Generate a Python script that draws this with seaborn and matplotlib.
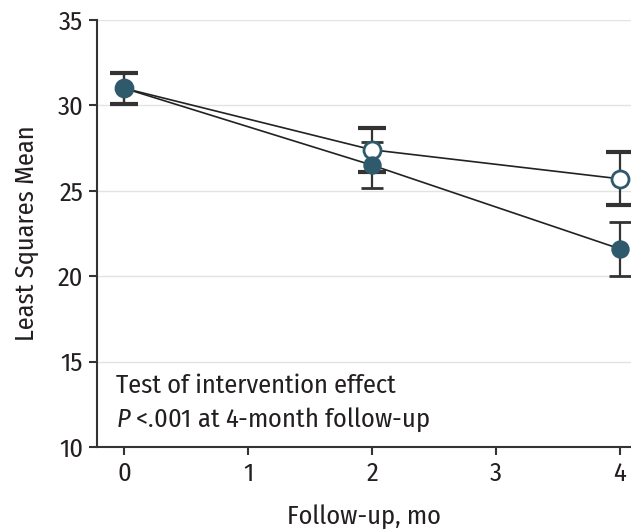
import matplotlib
matplotlib.use('Agg')
from matplotlib import pyplot as plt
import pandas as pd
import seaborn as sns

### DATA ###
months = [0, 2, 4]
open_mean = [31.0, 27.4, 25.7]
open_err = [0.9, 1.3, 1.55]
filled_mean = [31.0, 26.5, 21.6]
filled_err = [0.9, 1.35, 1.6]
y_ticks = [10, 15, 20, 25, 30, 35]
x_ticks = [0, 1, 2, 3, 4]

teal = '#2f5a6b'
dark = '#333333'
txt = '#231f20'
fam = 'Fira Sans Condensed'
fs = 19

sns.set_style('white')
plt.rcParams['font.family'] = [fam, 'DejaVu Sans']
plt.rcParams['mathtext.fontset'] = 'custom'
plt.rcParams['mathtext.it'] = fam + ':italic'
plt.rcParams['mathtext.rm'] = fam

df = pd.DataFrame({
    'month': months * 2,
    'mean': open_mean + filled_mean,
    'group': ['open'] * 3 + ['filled'] * 3,
})

fig = plt.figure(figsize=(6.31, 5.30), dpi=100)
ax = fig.add_axes([0.1537, 0.1566, 0.8463, 0.8057])

for yy in y_ticks[1:]:
    ax.axhline(yy, color='#e3e3e3', lw=1, zorder=0)

# lines
sns.lineplot(data=df, x='month', y='mean', units='group', estimator=None,
             color='#222222', lw=1.2, ax=ax, zorder=2)

# error bars: open group (teal caps)
eb = ax.errorbar(months, open_mean, yerr=open_err, fmt='none', ecolor=dark,
                 elinewidth=1.6, capsize=10, capthick=3, zorder=3)
for c in eb[1]:
    c.set_color(teal)
# error bars: filled group (dark caps)
ax.errorbar(months, filled_mean, yerr=filled_err, fmt='none', ecolor=dark,
            elinewidth=1.6, capsize=8, capthick=2, zorder=3)

# markers
sns.scatterplot(x=months, y=open_mean, marker='o', s=150, color='white',
                edgecolor=teal, linewidth=2, ax=ax, zorder=4, clip_on=False)
sns.scatterplot(x=months, y=filled_mean, marker='o', s=150, color=teal,
                edgecolor=teal, linewidth=1, ax=ax, zorder=5, clip_on=False)

ax.set_xlim(-0.22, 4.09)
ax.set_ylim(10, 35)
ax.set_xticks(x_ticks)
ax.set_yticks(y_ticks)
ax.tick_params(axis='both', direction='out', length=6, width=1.5, color=dark,
               labelsize=fs, labelcolor=txt, pad=4, left=True, bottom=True)
for s in ['top', 'right']:
    ax.spines[s].set_visible(False)
for s in ['left', 'bottom']:
    ax.spines[s].set_color(dark)
    ax.spines[s].set_linewidth(1.5)

ax.set_xlabel('Follow-up, mo', fontsize=fs, color=txt, labelpad=13)
ax.set_ylabel('Least Squares Mean', fontsize=fs, color=txt, labelpad=13)

ax.text(-0.07, 13.6, 'Test of intervention effect', fontsize=fs, color=txt,
        va='center', ha='left')
ax.text(-0.07, 11.6, r'$\it{P}$ <.001 at 4-month follow-up', fontsize=fs,
        color=txt, va='center', ha='left')

fig.savefig('out.png', dpi=100)
